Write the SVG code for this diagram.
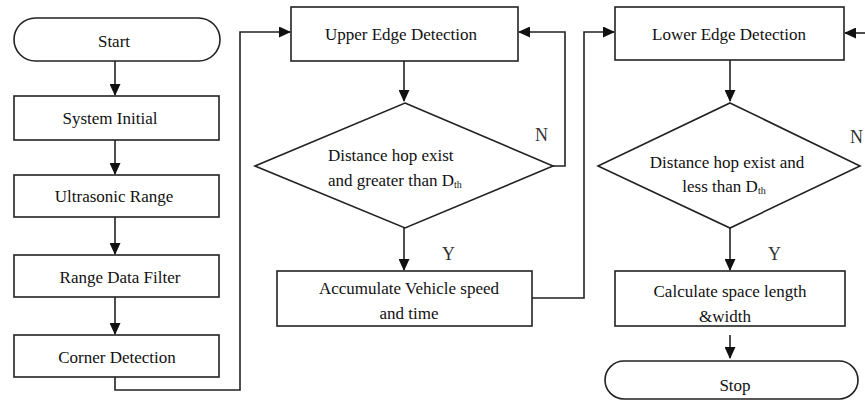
<svg xmlns="http://www.w3.org/2000/svg" width="865" height="400" viewBox="0 0 865 400">
<style>
.s{fill:#fff;stroke:#222;stroke-width:1.6}
.c{fill:none;stroke:#222;stroke-width:1.6}
text{font-family:"Liberation Serif","DejaVu Serif",serif;font-size:17px;fill:#111}
.m{text-anchor:middle}
.sub{font-size:10px}
.lbl{font-size:18px;fill:#333}
</style>
<defs>
<marker id="a" markerWidth="12" markerHeight="11" refX="11" refY="5.5" orient="auto" markerUnits="userSpaceOnUse">
<path d="M0,0 L12,5.5 L0,11 z" fill="#111"/>
</marker>
</defs>
<g id="connectors">
<line class="c" x1="115" y1="61" x2="115" y2="95" marker-end="url(#a)"/>
<line class="c" x1="115" y1="140" x2="115" y2="174" marker-end="url(#a)"/>
<line class="c" x1="115" y1="217" x2="115" y2="254" marker-end="url(#a)"/>
<line class="c" x1="115" y1="297" x2="115" y2="334" marker-end="url(#a)"/>
<polyline class="c" points="115,377 115,390 240,390 240,32 290,32" marker-end="url(#a)"/>
<line class="c" x1="404" y1="61" x2="404" y2="101" marker-end="url(#a)"/>
<polyline class="c" points="553,166 565,166 565,32 519,32" marker-end="url(#a)"/>
<line class="c" x1="404" y1="228" x2="404" y2="270" marker-end="url(#a)"/>
<polyline class="c" points="532,298 584,298 584,32 614,32" marker-end="url(#a)"/>
<line class="c" x1="730" y1="60" x2="730" y2="101" marker-end="url(#a)"/>
<line class="c" x1="865" y1="33" x2="845" y2="33" marker-end="url(#a)"/>
<line class="c" x1="730" y1="228" x2="730" y2="270" marker-end="url(#a)"/>
<line class="c" x1="730" y1="335" x2="730" y2="358" marker-end="url(#a)"/>
</g>
<g id="start">
<rect class="s" x="14" y="18" width="206" height="43" rx="21.5" ry="21.5"/>
<text class="m" x="114" y="47">Start</text>
</g>
<g id="system-initial">
<rect class="s" x="14" y="96" width="205" height="44"/>
<text class="m" x="110" y="124">System Initial</text>
</g>
<g id="ultrasonic-range">
<rect class="s" x="14" y="175" width="205" height="42"/>
<text class="m" x="114" y="202">Ultrasonic Range</text>
</g>
<g id="range-data-filter">
<rect class="s" x="14" y="255" width="205" height="42"/>
<text class="m" x="120" y="283">Range Data Filter</text>
</g>
<g id="corner-detection">
<rect class="s" x="14" y="335" width="205" height="42"/>
<text class="m" x="117" y="363">Corner Detection</text>
</g>
<g id="upper-edge">
<rect class="s" x="291" y="7" width="227" height="54"/>
<text class="m" x="401" y="40">Upper Edge Detection</text>
</g>
<g id="upper-decision">
<polygon class="s" points="405,103 553,166 405,228 255,166"/>
<text x="328" y="161">Distance hop exist</text>
<text x="328" y="186">and greater than D<tspan class="sub" dy="2">th</tspan></text>
<text class="lbl" x="535" y="141">N</text>
<text class="lbl" x="442" y="260">Y</text>
</g>
<g id="accumulate">
<rect class="s" x="277" y="271" width="255" height="55"/>
<text class="m" x="409" y="294">Accumulate Vehicle speed</text>
<text class="m" x="409" y="319">and time</text>
</g>
<g id="lower-edge">
<rect class="s" x="615" y="7" width="229" height="53"/>
<text class="m" x="729" y="40">Lower Edge Detection</text>
</g>
<g id="lower-decision">
<polygon class="s" points="730,103 860,166 730,228 598,166"/>
<text class="m" x="727" y="168">Distance hop exist and</text>
<text class="m" x="724" y="192">less than D<tspan class="sub" dy="2">th</tspan></text>
<text class="lbl" x="850" y="143">N</text>
<text class="lbl" x="768" y="260">Y</text>
</g>
<g id="calculate">
<rect class="s" x="615" y="271" width="230" height="55"/>
<text class="m" x="730" y="297">Calculate space length</text>
<text class="m" x="725" y="322">&amp;width</text>
</g>
<g id="stop">
<rect class="s" x="605" y="361" width="253" height="38" rx="19" ry="19"/>
<text class="m" x="735" y="391">Stop</text>
</g>
</svg>
